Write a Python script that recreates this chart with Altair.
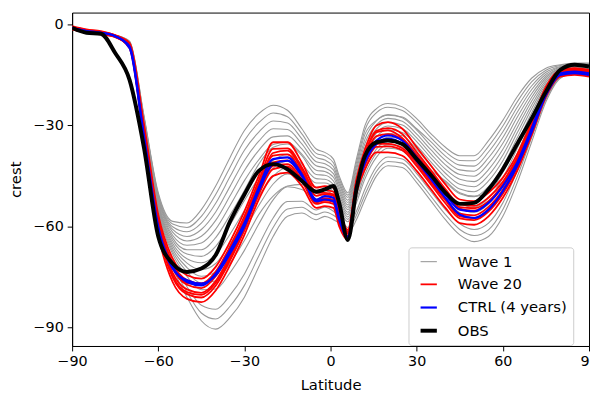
import altair as alt
import pandas as pd

LAT = [-90, -85, -80, -75, -70, -65, -60, -55, -50, -45, -40, -35, -30, -25, -20, -15, -10, -5, -2, 1,
       3, 6, 9, 12, 16, 20, 25, 30, 35, 40, 45, 50, 55, 60, 65, 70, 75, 80, 85, 90]

SERIES = ["Wave 1", "Wave 20", "CTRL (4 years)", "OBS"]
COLORS = ["#999999", "#ff0000", "#0000ff", "#000000"]
WIDTHS = [1.1, 1.8, 2.2, 4]

# Wave 1 ensemble (grey)
g00 = [-1, -2, -2.5, -3.2, -5, -27, -50, -58.5, -59, -55, -48, -39.5, -31.5, -26.5, -24, -25.5, -31, -37, -38, -40, -45, -50, -40, -30, -25, -23.5, -24.5, -28, -32.5, -36.5, -39, -39, -34.5, -28.5, -21.5, -16, -13, -12, -11.5, -11.5]
g06 = [-1, -2, -2.5, -3.2, -5.1, -27.3, -50.5, -59.3, -60.3, -57, -50.5, -42.4, -34.5, -29.2, -26.3, -27.4, -32.5, -38.3, -39.1, -41.1, -45.8, -50.7, -41.1, -31.3, -26.2, -24.6, -25.6, -29.1, -33.7, -37.8, -40.4, -40.5, -36.2, -30.2, -23, -17.1, -13.6, -12.2, -11.7, -11.7]
g12 = [-1.1, -2.1, -2.6, -3.3, -5.2, -27.6, -51, -60.1, -61.6, -59, -53.1, -45.2, -37.4, -32, -28.7, -29.3, -34, -39.5, -40.3, -42.2, -46.7, -51.4, -42.2, -32.6, -28.5, -27, -27.5, -31, -34.9, -39.1, -41.8, -42.1, -37.9, -31.9, -24.6, -18.3, -14.2, -12.5, -11.9, -11.9]
g18 = [-1.1, -2.1, -2.6, -3.3, -5.4, -27.9, -51.4, -60.9, -63, -60.9, -55.7, -48.1, -40.4, -34.7, -31, -31.2, -35.5, -40.8, -41.4, -43.2, -47.5, -52.2, -43.2, -34, -28.6, -26.8, -27.7, -31.4, -36.1, -40.4, -43.2, -43.6, -39.6, -33.6, -26.1, -19.4, -14.8, -12.7, -12, -12]
g24 = [-1.1, -2.1, -2.6, -3.3, -5.5, -28.2, -51.9, -61.7, -64.3, -62.9, -58.2, -50.9, -43.4, -37.4, -33.4, -33.1, -37, -42, -42.6, -44.3, -48.4, -52.9, -44.3, -35.3, -29.8, -27.9, -28.8, -32.6, -37.3, -41.7, -44.6, -45.1, -41.3, -35.3, -27.6, -20.6, -15.4, -13, -12.2, -12.2]
g30 = [-1.2, -2.2, -2.7, -3.4, -5.6, -28.5, -52.4, -62.6, -65.6, -64.9, -60.8, -53.8, -46.4, -40.2, -35.7, -35, -38.5, -43.3, -43.7, -45.4, -49.2, -53.6, -45.4, -36.6, -31, -29.1, -29.9, -33.7, -38.5, -43, -46, -46.7, -43.1, -37.1, -29.2, -21.7, -16, -13.2, -12.4, -12.4]
g36 = [-1.2, -2.2, -2.7, -3.4, -5.7, -28.8, -52.9, -63.4, -66.9, -66.9, -63.3, -56.6, -49.3, -41.5, -36.5, -35.5, -39, -44.6, -44.8, -46.5, -50, -54.3, -46.5, -37.9, -32.2, -30.2, -31, -34.8, -39.7, -44.2, -47.5, -48.2, -44.8, -38.8, -30.7, -22.8, -16.6, -13.4, -12.6, -12.6]
g42 = [-1.2, -2.2, -2.7, -3.5, -5.8, -29.1, -53.4, -64.2, -68.2, -68.9, -65.9, -59.5, -52.3, -45.6, -40.4, -38.7, -41.5, -45.8, -46, -47.6, -50.9, -55, -47.6, -39.2, -33.4, -31.3, -32.1, -36, -40.9, -45.5, -48.9, -49.7, -46.5, -40.5, -32.2, -24, -17.2, -13.7, -12.8, -12.8]
g48 = [-1.2, -2.2, -2.7, -3.5, -6, -29.4, -53.8, -65, -69.6, -70.8, -68.4, -62.3, -55.3, -48.3, -42.7, -40.6, -43, -47.1, -47.1, -48.6, -51.7, -55.8, -48.6, -40.6, -34.6, -32.4, -33.1, -37.1, -42.1, -46.8, -50.3, -51.2, -48.2, -42.2, -33.7, -25.1, -17.8, -13.9, -12.9, -12.9]
g54 = [-1.3, -2.3, -2.8, -3.5, -6.1, -29.7, -54.3, -65.8, -70.9, -72.8, -71, -65.2, -58.2, -51.1, -45.1, -42.5, -44.5, -48.3, -48.3, -49.7, -52.6, -56.5, -49.7, -41.9, -35.8, -33.5, -34.2, -38.3, -43.3, -46.5, -50, -51, -49.9, -43.9, -35.3, -26.3, -18.4, -14.2, -13.1, -13.1]
g60 = [-1.3, -2.3, -2.8, -3.6, -6.2, -30, -54.8, -66.6, -72.2, -74.8, -73.5, -68, -61.2, -53.8, -47.4, -44.4, -46, -49.6, -49.4, -50.8, -53.4, -57.2, -50.8, -43.2, -37, -34.6, -35.3, -39.4, -44.5, -49.4, -53.1, -54.3, -51.6, -45.6, -36.8, -27.4, -19, -14.4, -13.3, -13.3]
g66 = [-1.3, -2.3, -2.8, -3.6, -6.3, -30.3, -55.3, -67.4, -73.5, -76.8, -76.1, -70.9, -64.2, -56.5, -51, -48, -47.5, -50.9, -50.5, -51.9, -54.2, -57.9, -51.9, -44.5, -38.2, -35.7, -36.4, -40.5, -45.7, -50.7, -54.5, -55.8, -53.3, -47.3, -38.3, -28.5, -19.6, -14.6, -13.5, -13.5]
g72 = [-1.4, -2.4, -2.9, -3.6, -6.4, -30.6, -55.8, -68.2, -74.8, -78.8, -78.6, -73.7, -67.1, -59.3, -52.1, -48.2, -49, -52.1, -51.7, -53, -55.1, -58.6, -53, -45.8, -39.4, -36.8, -37.5, -41.7, -46.9, -52, -55.9, -57.4, -55, -49, -39.9, -29.7, -20.2, -14.9, -13.7, -13.7]
g86 = [-1.4, -2.4, -2.9, -3.7, -6.7, -31.3, -56.9, -70.1, -77.9, -83.4, -84.6, -80.4, -74.1, -65.6, -57.5, -52.6, -52.5, -55.1, -54.3, -55.5, -57, -60.3, -55.5, -48.9, -42.2, -39.4, -40, -44.3, -49.7, -55, -59.2, -60.9, -59, -53, -43.4, -32.3, -21.6, -15.4, -14.1, -14.1]
g93 = [-1.5, -2.5, -3, -3.8, -6.9, -31.7, -57.4, -71.1, -79.5, -85.7, -87.5, -83.7, -77.5, -68.8, -60.3, -54.8, -54.3, -56.5, -55.7, -56.7, -58, -61.2, -56.7, -50.5, -43.6, -40.7, -41.2, -45.7, -51.1, -56.5, -60.9, -62.7, -61, -55, -45.2, -33.7, -22.3, -15.7, -14.3, -14.3]
g100 = [-1.5, -2.5, -3, -3.8, -7, -32, -58, -72, -81, -88, -90.5, -87, -81, -72, -63, -57, -56, -58, -57, -58, -59, -62, -58, -52, -45, -42, -42.5, -47, -52.5, -58, -62.5, -64.5, -63, -57, -47, -35, -23, -16, -14.5, -14.5]

# Wave 20 ensemble (red)
r1 = [-0.5, -1.5, -2, -3.2, -5.5, -29.5, -56.5, -69.5, -74.5, -75.5, -72, -64.5, -55.5, -45, -35, -35, -41, -48.5, -48, -48.5, -55, -61, -46, -37, -30, -29, -31, -36.5, -42, -47.5, -52, -52.5, -50, -45.5, -38.5, -29, -18.5, -13.5, -13, -13.5]
r2 = [-0.7, -1.7, -2.2, -3.3, -6, -30.5, -57.7, -70.9, -75.9, -76.9, -73.4, -65.9, -56.9, -46.4, -37, -36.8, -42.4, -49.7, -49.2, -49.7, -56, -61.6, -46.8, -38.2, -31.6, -30.8, -32.6, -37.9, -43.4, -48.9, -53.4, -53.9, -51.4, -46.7, -39.5, -29.8, -19.1, -13.9, -13.4, -13.9]
r3 = [-0.9, -1.9, -2.4, -3.4, -6.2, -31.5, -58.9, -72.3, -77.3, -78.3, -74.8, -67.3, -58.3, -47.8, -39, -38.6, -43.8, -50.9, -50.4, -50.9, -57, -62.2, -47.6, -39.4, -33.2, -32.6, -34.2, -39.3, -44.8, -50.3, -54.8, -55.3, -52.8, -47.9, -40.5, -30.6, -19.7, -14.3, -13.8, -14.3]
r4 = [-1.1, -2.1, -2.6, -3.6, -6.5, -32.5, -60.1, -73.7, -78.7, -79.7, -76.2, -68.7, -59.7, -49.2, -41, -40.4, -45.2, -52.1, -51.6, -52.1, -58, -62.8, -48.4, -40.6, -34.8, -34.4, -35.8, -40.7, -46.2, -51.7, -56.2, -56.7, -54.2, -49.1, -41.5, -31.4, -20.3, -14.7, -14.2, -14.7]
r5 = [-1.3, -2.3, -2.8, -3.7, -6.8, -33.5, -61.3, -75.1, -80.1, -81.1, -77.6, -70.1, -61.1, -50.6, -43, -42.2, -46.6, -53.3, -52.8, -53.3, -59, -63.4, -49.2, -41.8, -36.4, -36.2, -37.4, -42.1, -47.6, -53.1, -57.6, -58.1, -55.6, -50.3, -42.5, -32.2, -20.9, -15.1, -14.6, -15.1]
r6 = [-1.5, -2.5, -3, -3.8, -7.1, -34.5, -62.5, -76.5, -81.5, -82.5, -79, -71.5, -62.5, -52, -45, -44, -48, -54.5, -54, -54.5, -60, -64, -50, -43, -38, -38, -39, -43.5, -49, -54.5, -59, -59.5, -57, -51.5, -43.5, -33, -21.5, -15.5, -15, -15.5]
r7 = [-0.8, -1.8, -2.3, -3.3, -6.1, -31, -58.2, -71.5, -76.8, -77.2, -74, -66.3, -57.8, -47.5, -38.2, -37.5, -43, -50, -50, -50.5, -56.5, -62, -47, -38.5, -32, -31.5, -33.8, -38.8, -44, -49.4, -54.3, -54.6, -52.5, -47.5, -40.2, -30.4, -19.5, -14, -13.6, -14]
r8 = [-1.2, -2.2, -2.7, -3.65, -6.7, -33, -60.7, -74.5, -79.5, -80.3, -76.8, -69.5, -60.2, -50, -42, -41.5, -46, -52.8, -52.3, -52.6, -58.5, -63, -48.8, -41.2, -35.5, -35.5, -36.8, -41.2, -47, -52.2, -57, -57.5, -55, -49.6, -42, -31.8, -20.6, -14.9, -14.4, -14.9]

# CTRL (blue)
b1 = [-1, -2, -2.5, -3.5, -6.5, -33, -60, -72, -76.5, -77.5, -74, -67, -59, -48.5, -40, -39.5, -44.5, -52, -51, -51.5, -57.5, -63, -48, -40, -34.5, -33, -34.5, -39.5, -45, -50.5, -55, -55.5, -53, -48, -41, -31, -20, -14.5, -14, -14.5]
b2 = [-1, -2, -2.5, -3.5, -7, -34, -61, -72.5, -76, -77, -74.5, -68, -60, -49.5, -41.5, -40.5, -45, -52.5, -52, -52.5, -58, -63.5, -49, -41, -35.5, -34, -35.5, -40.5, -46, -51.5, -56.5, -57.5, -55, -49.5, -42, -32, -21, -15, -14.5, -15]

# Observations (black)
obs = [-1, -2.5, -2.8, -8.5, -16.5, -36.5, -63, -71, -73.5, -72.5, -68.5, -58.5, -50.5, -43.5, -41.5, -43, -46.5, -49.7, -49, -48, -53, -64, -49, -39, -35, -34.5, -35.5, -40, -44.8, -50, -53.3, -53, -49, -43, -35.5, -28, -20, -13.5, -12, -12.5]

groups = [
    ("Wave 1", [g00, g06, g12, g18, g24, g30, g36, g42, g48, g54, g60, g66, g72, g86, g93, g100]),
    ("Wave 20", [r1, r2, r7, r3, r4, r8, r5, r6]),
    ("CTRL (4 years)", [b1, b2]),
    ("OBS", [obs]),
]

rows = []
for series, lines in groups:
    for k, vals in enumerate(lines):
        for la, v in zip(LAT, vals):
            rows.append({"lat": la, "val": v, "series": series, "line": f"{series}-{k}"})
df = pd.DataFrame(rows)

FONT = "DejaVu Sans"

legend = alt.Legend(
    title=None, orient="none", legendX=341, legendY=238,
    symbolType="M-1.1,0L1.1,0", symbolSize=225, symbolOffset=5,
    labelOffset=20, padding=6, rowPadding=6,
    labelFont=FONT, labelFontSize=15, labelColor="black",
    fillColor="rgba(255,255,255,0.85)", strokeColor="#cccccc", cornerRadius=3,
)

base = alt.Chart(df).mark_line(strokeJoin="round", clip=True, interpolate="monotone").encode(
    x=alt.X("lat:Q", scale=alt.Scale(domain=[-90, 90], nice=False),
            axis=alt.Axis(values=[-90, -60, -30, 0, 30, 60, 90], title="Latitude",
                          format="d", labelFlush=False, titleY=44, titleBaseline="alphabetic")),
    y=alt.Y("val:Q", scale=alt.Scale(domain=[-95.5, 3.5], nice=False, zero=False),
            axis=alt.Axis(values=[0, -30, -60, -90], title="crest", format="d",
                          titleX=-52, titleY=169, titleAngle=270, titleBaseline="alphabetic")),
    color=alt.Color("series:N", scale=alt.Scale(domain=SERIES, range=COLORS), legend=legend),
    strokeWidth=alt.StrokeWidth("series:N", scale=alt.Scale(type="ordinal", domain=SERIES, range=WIDTHS), legend=legend),
    detail="line:N",
)

layers = [base.transform_filter(alt.datum.series == s) for s in SERIES]

chart = alt.layer(*layers).properties(
    width=524, height=338,
    autosize=alt.AutoSizeParams(type="none"),
    padding={"left": 65, "top": 2, "right": 1, "bottom": 45},
    background="white",
).configure_view(
    stroke="black", strokeWidth=1
).configure_axis(
    grid=False, domainColor="black", domainWidth=1, tickColor="black", tickSize=5, tickWidth=1,
    labelFont=FONT, labelFontSize=14.5, labelColor="black", labelPadding=4,
    titleFont=FONT, titleFontSize=15, titleFontWeight="normal", titleColor="black",
)

chart.save("out.html", embed_options={"renderer": "svg", "actions": False})
